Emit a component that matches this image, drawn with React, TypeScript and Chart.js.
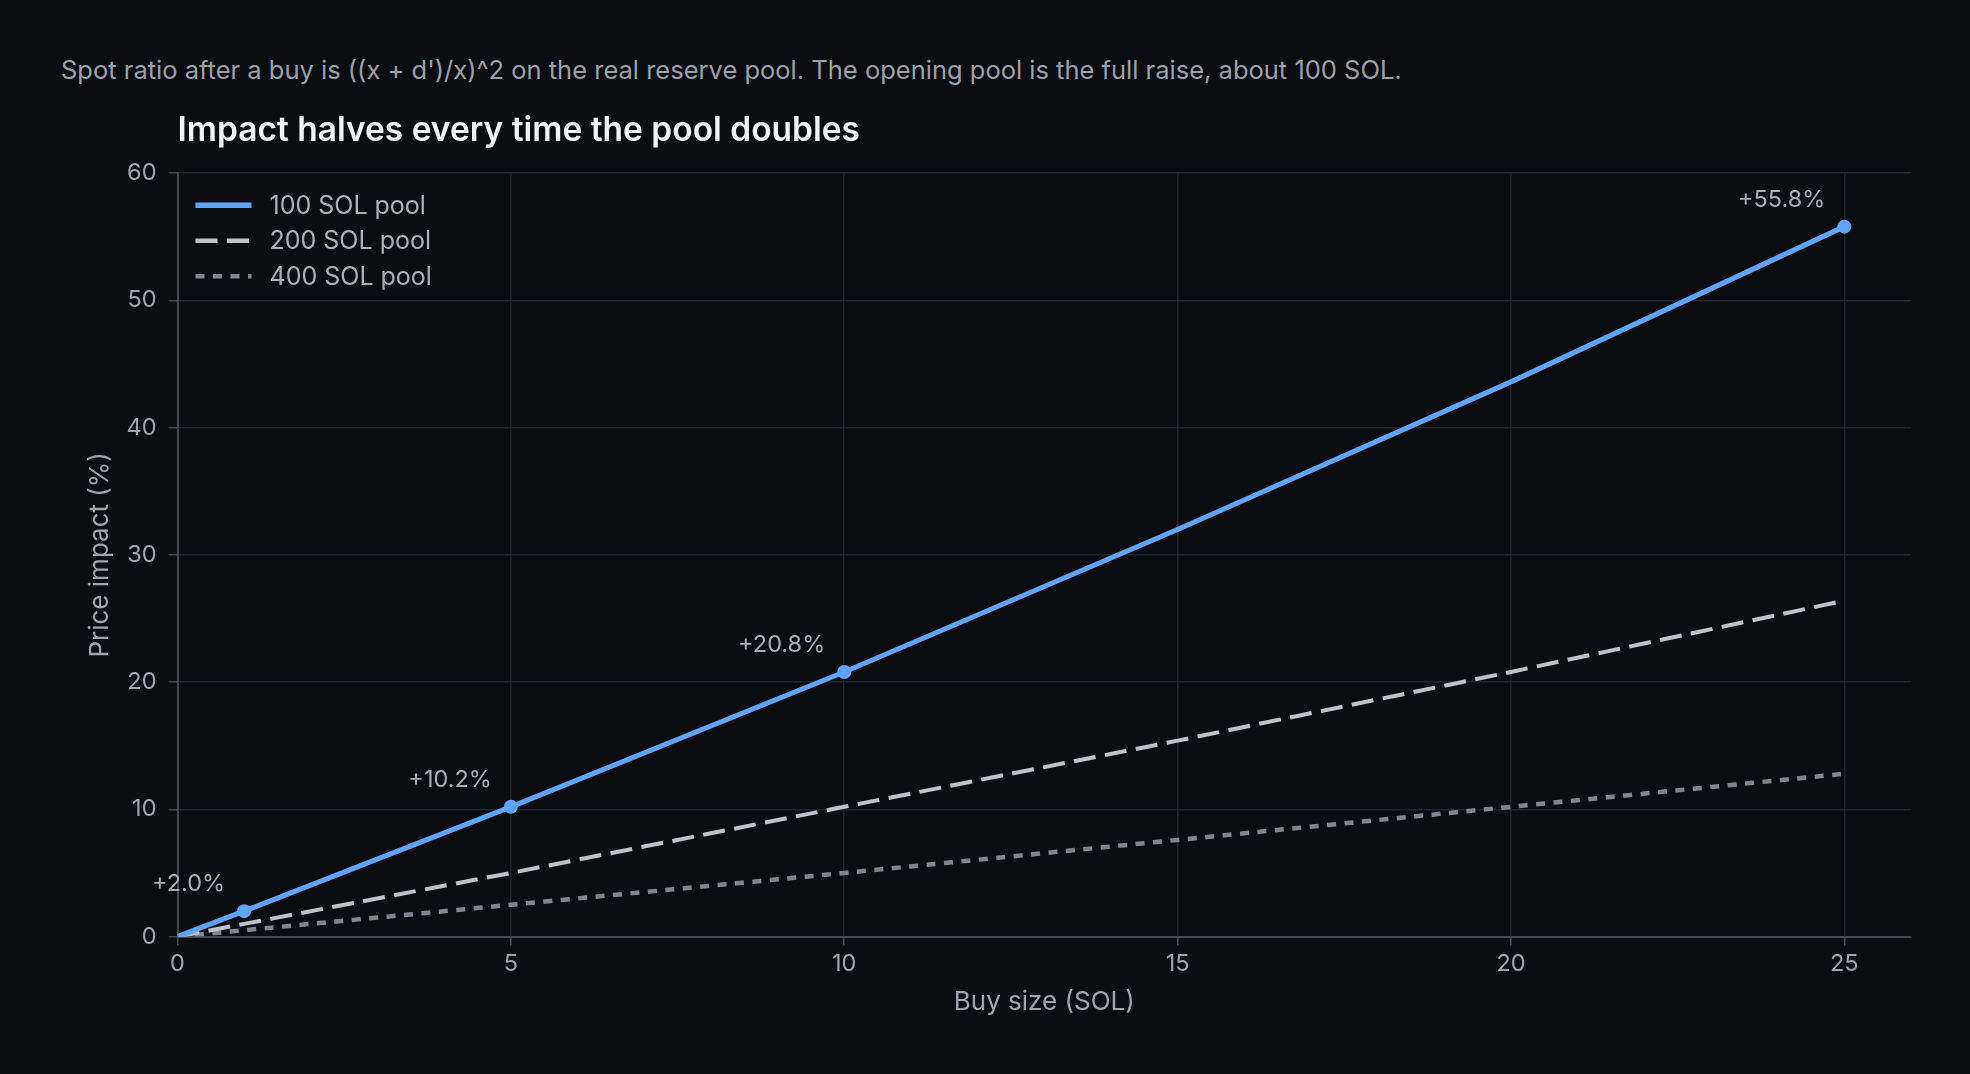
import { useEffect, useRef } from "react";
import { Chart, registerables, type Plugin } from "chart.js";

Chart.register(...registerables);

const buySizes = [0, 1, 5, 10, 15, 20, 25];
const pool100 = [0, 2.0, 10.2, 20.8, 32.0, 43.6, 55.8];
const pool200 = [0, 1.0, 5.0, 10.2, 15.4, 20.8, 26.4];
const pool400 = [0, 0.5, 2.5, 5.0, 7.6, 10.2, 12.8];
const markedSizes = [1, 5, 10, 25];
const seriesLabels = ["100 SOL pool", "200 SOL pool", "400 SOL pool"];

const BG = "#0b0d11";
const BLUE = "#5ea5f8";
const DASH_GREY = "#bec2c9";
const DOT_GREY = "#80868f";
const AXIS = "#434a54";
const FONT = "Inter, 'Noto Sans', sans-serif";

const dashes = [[], [22, 9.5], [9, 8.5]];
const colors = [BLUE, DASH_GREY, DOT_GREY];
const widths = [5, 4, 4.5];

// legend drawn inside the plot, top-left
const insideLegend: Plugin<"line"> = {
  id: "insideLegend",
  afterDatasetsDraw(chart) {
    const { ctx, chartArea } = chart;
    ctx.save();
    seriesLabels.forEach((label, i) => {
      const y = chartArea.top + 32 + i * 35.5;
      const x0 = chartArea.left + 18;
      ctx.beginPath();
      ctx.setLineDash(dashes[i]);
      ctx.lineWidth = i === 0 ? 5.5 : 4.5;
      ctx.strokeStyle = colors[i];
      ctx.moveTo(x0, y);
      ctx.lineTo(x0 + 56, y);
      ctx.stroke();
      ctx.setLineDash([]);
      ctx.fillStyle = "#aab0b8";
      ctx.font = `25px ${FONT}`;
      ctx.textAlign = "left";
      ctx.textBaseline = "middle";
      ctx.fillText(label, chartArea.left + 92, y + 1);
    });
    ctx.restore();
  },
};

// value labels next to the marked points of the 100 SOL line
const pointLabels: Plugin<"line"> = {
  id: "pointLabels",
  afterDatasetsDraw(chart) {
    const { ctx } = chart;
    const xs = chart.scales.x;
    const ys = chart.scales.y;
    ctx.save();
    ctx.fillStyle = "#a7adb5";
    ctx.font = `23.5px ${FONT}`;
    ctx.textAlign = "right";
    ctx.textBaseline = "middle";
    buySizes.forEach((s, i) => {
      if (!markedSizes.includes(s)) return;
      const px = xs.getPixelForValue(s);
      const py = ys.getPixelForValue(pool100[i]);
      ctx.fillText(`+${pool100[i].toFixed(1)}%`, px - 19, py - 27);
    });
    ctx.restore();
  },
};

function ImpactChart() {
  const canvasRef = useRef<HTMLCanvasElement>(null);

  useEffect(() => {
    if (!canvasRef.current) return;
    const series = [pool100, pool200, pool400];

    const chart = new Chart(canvasRef.current, {
      type: "line",
      data: {
        datasets: series.map((vals, i) => ({
          label: seriesLabels[i],
          data: buySizes.map((s, j) => ({ x: s, y: vals[j] })),
          borderColor: colors[i],
          backgroundColor: colors[i],
          borderWidth: widths[i],
          borderDash: dashes[i],
          borderCapStyle: "butt" as const,
          tension: 0,
          pointRadius:
            i === 0 ? buySizes.map((s) => (markedSizes.includes(s) ? 7 : 0)) : 0,
          pointBorderWidth: 0,
          pointHoverRadius: 0,
        })),
      },
      options: {
        animation: false,
        responsive: true,
        maintainAspectRatio: false,
        layout: { padding: { left: 80.5, right: 59, top: 0, bottom: 27 } },
        plugins: {
          legend: { display: false },
          tooltip: { enabled: false },
          title: {
            display: true,
            fullSize: false,
            text: "Impact halves every time the pool doubles",
            align: "start",
            color: "#f0f3f6",
            font: { family: FONT, size: 33.5, weight: 600 },
            padding: { top: 11, bottom: 22 },
          },
        },
        scales: {
          x: {
            type: "linear",
            min: 0,
            max: 26,
            ticks: {
              stepSize: 5,
              includeBounds: false,
              color: "#9ea5ae",
              font: { family: FONT, size: 23.5 },
              padding: 4,
            },
            grid: { color: "#20252c", lineWidth: 1.5, tickLength: 9, tickColor: AXIS },
            border: { color: AXIS, width: 2 },
            title: {
              display: true,
              text: "Buy size (SOL)",
              color: "#9ea5ae",
              font: { family: FONT, size: 26 },
              padding: { top: 5, bottom: 0 },
            },
          },
          y: {
            min: 0,
            max: 60,
            ticks: {
              stepSize: 10,
              color: "#9ea5ae",
              font: { family: FONT, size: 23.5 },
              padding: 12,
            },
            grid: { color: "#20252c", lineWidth: 1.5, tickLength: 9, tickColor: AXIS },
            border: { color: AXIS, width: 2 },
            title: {
              display: true,
              text: "Price impact (%)",
              color: "#9ea5ae",
              font: { family: FONT, size: 26 },
              padding: { top: 4, bottom: 4 },
            },
            afterFit(scale) {
              scale.width = 97;
            },
          },
        },
      },
      plugins: [insideLegend, pointLabels],
    });

    return () => {
      chart.destroy();
    };
  }, []);

  return (
    <div style={{ position: "absolute", left: 0, top: 100, width: 1970, height: 945 }}>
      <canvas ref={canvasRef} />
    </div>
  );
}

export default function App() {
  return (
    <div style={{ position: "fixed", inset: 0, background: BG, fontFamily: FONT }}>
      <div
        style={{
          position: "absolute",
          left: 61,
          top: 55,
          fontSize: 25.5,
          lineHeight: "30px",
          color: "#9aa1a9",
          whiteSpace: "nowrap",
        }}
      >
        Spot ratio after a buy is ((x + d')/x)^2 on the real reserve pool. The opening pool is the
        full raise, about 100 SOL.
      </div>
      <ImpactChart />
    </div>
  );
}
